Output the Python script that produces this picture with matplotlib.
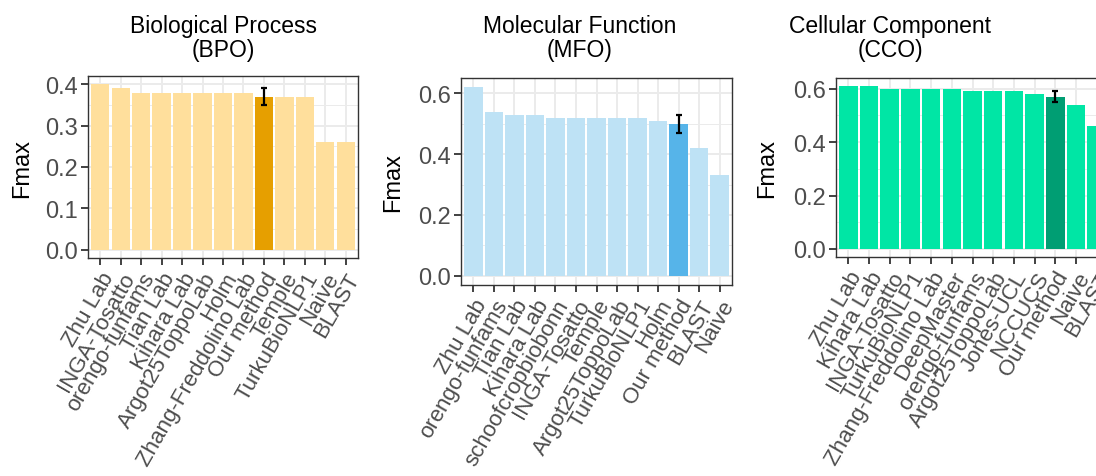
import numpy as np
import matplotlib.pyplot as plt
from matplotlib.ticker import MultipleLocator

plt.rcParams['font.family'] = ['Liberation Sans', 'DejaVu Sans']

# Biological Process
bpo_names = ['Zhu Lab', 'INGA-Tosatto', 'orengo-funfams', 'Tian Lab', 'Kihara Lab',
             'Argot25ToppoLab', 'Holm', 'Zhang-Freddolino Lab', 'Our method',
             'Temple', 'TurkuBioNLP1', 'Naive', 'BLAST']
bpo_vals = [0.40, 0.39, 0.38, 0.38, 0.38, 0.38, 0.38, 0.38, 0.37, 0.37, 0.37, 0.26, 0.26]

# Molecular Function
mfo_names = ['Zhu Lab', 'orengo-funfams', 'Tian Lab', 'Kihara Lab', 'schoofcropbiobonn',
             'INGA-Tosatto', 'Temple', 'Argot25ToppoLab', 'TurkuBioNLP1', 'Holm',
             'Our method', 'BLAST', 'Naive']
mfo_vals = [0.62, 0.54, 0.53, 0.53, 0.52, 0.52, 0.52, 0.52, 0.52, 0.51, 0.50, 0.42, 0.33]

# Cellular Component
cco_names = ['Zhu Lab', 'Kihara Lab', 'INGA-Tosatto', 'TurkuBioNLP1', 'Zhang-Freddolino Lab',
             'DeepMaster', 'orengo-funfams', 'Argot25ToppoLab', 'Jones-UCL', 'NCCUCS',
             'Our method', 'Naive', 'BLAST']
cco_vals = [0.61, 0.61, 0.60, 0.60, 0.60, 0.60, 0.59, 0.59, 0.59, 0.58, 0.57, 0.54, 0.46]

# error bars of our method (low, high)
bpo_err = (0.35, 0.39)
mfo_err = (0.47, 0.53)
cco_err = (0.55, 0.59)

W, H = 1096, 477
fig = plt.figure(figsize=(W / 100, H / 100), dpi=100)


def panel(box, names, vals, err, light, dark, title, title_x, ylab_x, major):
    l, t, r, b = box
    ax = fig.add_axes([l / W, 1 - b / H, (r - l) / W, (b - t) / H])
    x = np.arange(1, len(names) + 1)
    cols = [dark if n == 'Our method' else light for n in names]
    ax.bar(x, vals, width=0.9, color=cols, zorder=2)
    k = names.index('Our method')
    ax.errorbar(x[k], vals[k], yerr=[[vals[k] - err[0]], [err[1] - vals[k]]],
                fmt='none', ecolor='black', elinewidth=1.6, capsize=2.2,
                capthick=1.6, zorder=3)
    top = max(max(vals), err[1])
    ax.set_ylim(-0.05 * top, 1.05 * top)
    ax.set_xlim(0.4, len(names) + 0.6)
    ax.yaxis.set_major_locator(MultipleLocator(major))
    ax.yaxis.set_minor_locator(MultipleLocator(major / 2))
    ax.set_xticks(x)
    ax.set_xticklabels(names, rotation=60, ha='right', va='top',
                       rotation_mode='anchor')
    ax.yaxis.set_major_formatter(plt.FuncFormatter(lambda v, p: f'{v:.1f}'))
    ax.grid(True, which='major', color='#EBEBEB', linewidth=1.4, zorder=0)
    ax.grid(True, which='minor', axis='y', color='#EBEBEB', linewidth=0.7, zorder=0)
    ax.set_axisbelow(True)
    for s in ax.spines.values():
        s.set_color('#333333')
        s.set_linewidth(1.0)
    ax.tick_params(axis='both', which='major', length=5, width=1.3, color='#333333',
                   labelcolor='#4D4D4D', pad=2.5)
    ax.tick_params(axis='x', labelsize=16)
    ax.tick_params(axis='y', labelsize=17)
    ax.tick_params(axis='y', which='minor', length=0)
    ax.set_ylabel('Fmax', fontsize=17)
    ax.yaxis.set_label_coords((ylab_x - l) / (r - l), 0.5)
    fig.text(title_x / W, 1 - 15 / H, title, ha='center', va='top', fontsize=16.5,
             linespacing=1.05)
    return ax


panel((88, 77, 358, 259), bpo_names, bpo_vals, bpo_err, '#FFDF9C', '#E69F00',
      'Biological Process\n(BPO)', 223, 33, 0.1)
panel((461, 79, 732, 286), mfo_names, mfo_vals, mfo_err, '#BEE2F5', '#56B4E9',
      'Molecular Function\n(MFO)', 580, 404, 0.2)
panel((836, 79, 1109, 258), cco_names, cco_vals, cco_err, '#00E6A5', '#009E73',
      'Cellular Component\n(CCO)', 890, 778, 0.2)

fig.savefig('out.png', dpi=100)
